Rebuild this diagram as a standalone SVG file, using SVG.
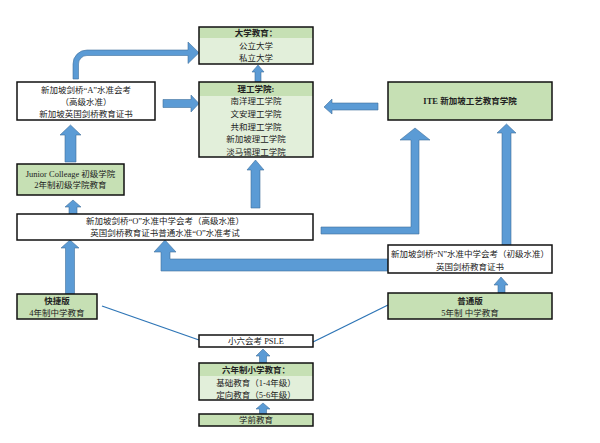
<svg xmlns="http://www.w3.org/2000/svg" width="600" height="443" viewBox="0 0 600 443">
<style>
text{font-family:"Liberation Serif","Noto Sans CJK SC",serif;font-size:8.5px;fill:#222;text-anchor:middle}
.b{font-weight:bold}
.box{fill:none;stroke:#111;stroke-width:1.5}
.w{fill:#fff}
.g{fill:#c6e0b4}
.lg{fill:#e2efda}
.arr{fill:#5b9bd5;stroke:#41719c;stroke-width:0.6}
.ln{stroke:#2e75b6;stroke-width:1.3;fill:none}
</style>
<rect width="600" height="443" fill="#fff"/>
<g id="connectors">
<path class="arr" d="M73,79 L73,64 A14,14 0 0 1 87,50 L188,50 L188,42 L199,52.75 L188,63.5 L188,55.5 L87,55.5 A8.5,8.5 0 0 0 78.5,64 L78.5,79 Z"/>
<polygon class="arr" points="163,99.5 191,99.5 191,95 199,103.5 191,112 191,107.5 163,107.5"/>
<polygon class="arr" points="65,162 65,135 60,135 70.5,125 81,135 76,135 76,162"/>
<polygon class="arr" points="255,82 255,72 252,72 258,65 264,72 261,72 261,82"/>
<polygon class="arr" points="251,208 251,170 247,170 255.5,160 264,170 260,170 260,208"/>
<polygon class="arr" points="378,103 332,103 332,99 324,107 332,114 332,110 378,110"/>
<polygon class="arr" points="321,227 411,227 411,140 400,140 415,128 430,140 419,140 419,234 321,234"/>
<polygon class="arr" points="502,246 502,133 497,133 506.5,124 516,133 511,133 511,246"/>
<polygon class="arr" points="388,259 170,259 170,252 176,252 165,240 154,252 161,252 161,271 388,271"/>
<polygon class="arr" points="498,293 498,285 494,285 501,277 508,285 505,285 505,293"/>
<polygon class="arr" points="65.5,294 65.5,248 61,248 70,240 79,248 74.5,248 74.5,294"/>
<polygon class="arr" points="69,214 69,207 65,207 73,200 81,207 77,207 77,214"/>
<polygon class="arr" points="259.5,363 259.5,356 256,356 263,349 270,356 266.5,356 266.5,363"/>
<polygon class="arr" points="259.5,414 259.5,409 256,409 263,403 270,409 266.5,409 266.5,414"/>
<line class="ln" x1="102" y1="306" x2="199" y2="340"/>
<line class="ln" x1="388" y1="305" x2="313" y2="342"/>
</g>
<g id="uni">
<rect class="lg" x="199" y="27" width="114" height="37"/>
<rect class="g" x="199" y="27" width="114" height="11"/>
<rect class="box" x="199" y="27" width="114" height="37"/>
<text class="b" x="256" y="36">大学教育：</text>
<text x="256" y="49">公立大学</text>
<text x="256" y="61">私立大学</text>
</g>
<g id="poly">
<rect class="lg" x="199" y="82" width="114" height="75"/>
<rect class="g" x="199" y="82" width="114" height="14"/>
<rect class="box" x="199" y="82" width="114" height="75"/>
<text class="b" x="256" y="92">理工学院:</text>
<text x="256" y="104">南洋理工学院</text>
<text x="256" y="117">文安理工学院</text>
<text x="256" y="130">共和理工学院</text>
<text x="256" y="142">新加坡理工学院</text>
<text x="256" y="155">淡马锡理工学院</text>
</g>
<g id="alevel">
<rect class="w" x="17" y="82" width="138" height="38"/>
<rect class="box" x="17" y="82" width="138" height="38"/>
<text x="86" y="93">新加坡剑桥“A”水准会考</text>
<text x="86" y="105">（高级水准）</text>
<text x="86" y="117">新加坡英国剑桥教育证书</text>
</g>
<g id="jc">
<rect class="g" x="17" y="164" width="107" height="31"/>
<rect class="box" x="17" y="164" width="107" height="31"/>
<text x="70.5" y="177">Junior Colleage 初级学院</text>
<text x="70.5" y="188">2年制初级学院教育</text>
</g>
<g id="ite">
<rect class="g" x="388" y="82" width="164" height="38"/>
<rect class="box" x="388" y="82" width="164" height="38"/>
<text class="b" x="470" y="104">ITE 新加坡工艺教育学院</text>
</g>
<g id="olevel">
<rect class="w" x="17" y="214" width="296" height="26"/>
<rect class="box" x="17" y="214" width="296" height="26"/>
<text x="165" y="224">新加坡剑桥“O”水准中学会考（高级水准）</text>
<text x="165" y="236">英国剑桥教育证书普通水准“O”水准考试</text>
</g>
<g id="nlevel">
<rect class="w" x="388" y="245" width="164" height="28"/>
<rect class="box" x="388" y="245" width="164" height="28"/>
<text x="470" y="257">新加坡剑桥“N”水准中学会考（初级水准）</text>
<text x="470" y="270">英国剑桥教育证书</text>
</g>
<g id="normal">
<rect class="g" x="388" y="293" width="164" height="26"/>
<rect class="box" x="388" y="293" width="164" height="26"/>
<text class="b" x="470" y="304">普通版</text>
<text x="470" y="316">5年制 中学教育</text>
</g>
<g id="express">
<rect class="g" x="17" y="294" width="80" height="25"/>
<rect class="box" x="17" y="294" width="80" height="25"/>
<text class="b" x="57" y="304">快捷版</text>
<text x="57" y="316">4年制中学教育</text>
</g>
<g id="psle">
<rect class="w" x="199" y="335" width="114" height="12"/>
<rect class="box" x="199" y="335" width="114" height="12"/>
<text x="256" y="344">小六会考 PSLE</text>
</g>
<g id="primary">
<rect class="lg" x="199" y="363" width="114" height="37"/>
<rect class="g" x="199" y="363" width="114" height="13"/>
<rect class="box" x="199" y="363" width="114" height="37"/>
<text class="b" x="256" y="373">六年制小学教育：</text>
<text x="256" y="386">基础教育（1-4年级）</text>
<text x="256" y="398">定向教育（5-6年级）</text>
</g>
<g id="preschool">
<rect class="g" x="199" y="414" width="114" height="12"/>
<rect class="box" x="199" y="414" width="114" height="12"/>
<text x="256" y="423">学前教育</text>
</g>
</svg>
